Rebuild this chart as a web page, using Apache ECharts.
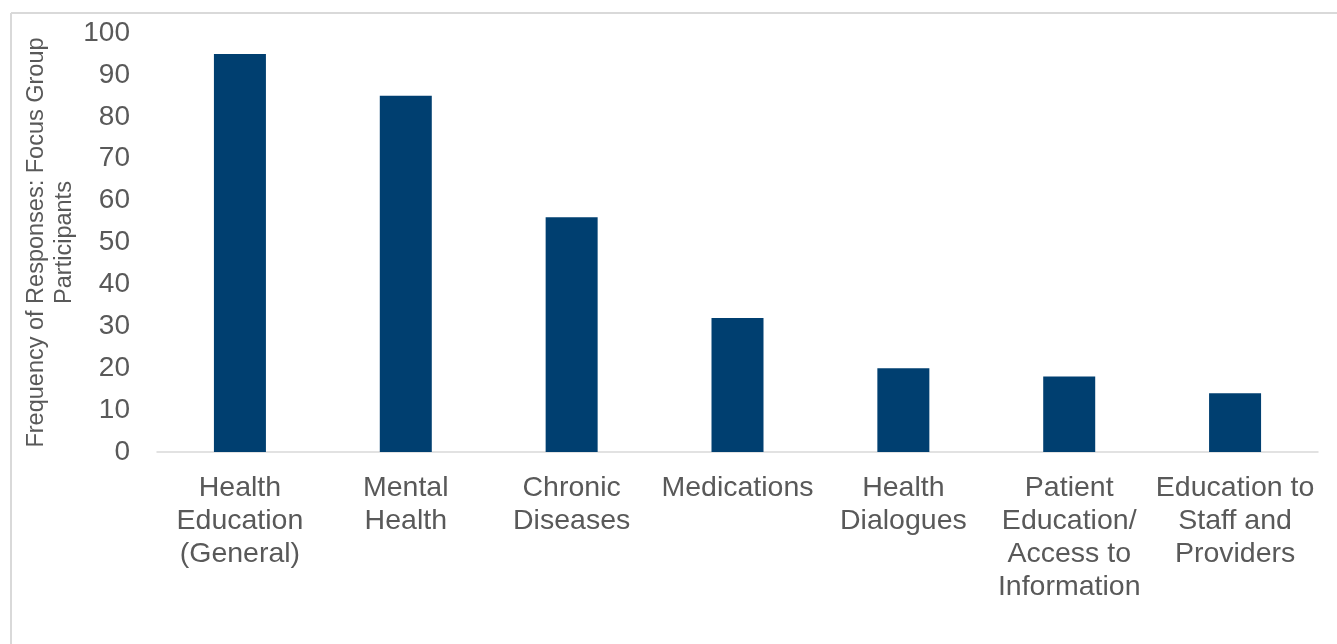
<!DOCTYPE html>
<html>
<head>
<meta charset="utf-8">
<script src="https://cdn.jsdelivr.net/npm/echarts@6/dist/echarts.min.js"></script>
<style>
  html, body { margin: 0; padding: 0; background: #ffffff; }
  #chart { width: 1337px; height: 644px; }
</style>
</head>
<body>
<div id="chart"></div>
<script>
// Topics raised by focus group participants
const categories = [
  'Health\nEducation\n(General)',
  'Mental\nHealth',
  'Chronic\nDiseases',
  'Medications',
  'Health\nDialogues',
  'Patient\nEducation/\nAccess to\nInformation',
  'Education to\nStaff and\nProviders'
];
const responses = [95, 85, 56, 32, 20, 18, 14];
const yAxisTitle = 'Frequency of Responses: Focus Group\nParticipants';

const textColor = '#595959';
const fontFamily = '"Liberation Sans", Arial, sans-serif';

const chart = echarts.init(document.getElementById('chart'), null, { renderer: 'canvas' });
chart.setOption({
  backgroundColor: '#ffffff',
  animation: false,
  graphic: [
    // light frame around the chart area
    { type: 'line', shape: { x1: 11, y1: 13, x2: 1337, y2: 13 }, style: { stroke: '#d9d9d9', lineWidth: 2 } },
    { type: 'line', shape: { x1: 11, y1: 13, x2: 11, y2: 644 }, style: { stroke: '#d9d9d9', lineWidth: 2 } }
  ],
  grid: { left: 157, right: 19, top: 33, height: 419, containLabel: false },
  xAxis: {
    type: 'category',
    data: categories,
    axisLine: { show: true, lineStyle: { color: '#d9d9d9', width: 1.5 } },
    axisTick: { show: false },
    axisLabel: {
      interval: 0,
      color: textColor,
      fontFamily: fontFamily,
      fontSize: 28.5,
      lineHeight: 33,
      margin: 20,
      align: 'center'
    }
  },
  yAxis: {
    type: 'value',
    min: 0,
    max: 100,
    interval: 10,
    name: yAxisTitle,
    nameLocation: 'middle',
    nameGap: 78,
    nameMoveOverlap: false,
    nameTextStyle: {
      color: textColor,
      fontFamily: fontFamily,
      fontSize: 23.5,
      lineHeight: 28,
      align: 'center'
    },
    axisLine: { show: false },
    axisTick: { show: false },
    splitLine: { show: false },
    axisLabel: {
      color: textColor,
      fontFamily: fontFamily,
      fontSize: 28,
      margin: 27
    }
  },
  series: [{
    type: 'bar',
    data: responses,
    barWidth: 52,
    itemStyle: { color: '#003f70' }
  }]
});
</script>
</body>
</html>
